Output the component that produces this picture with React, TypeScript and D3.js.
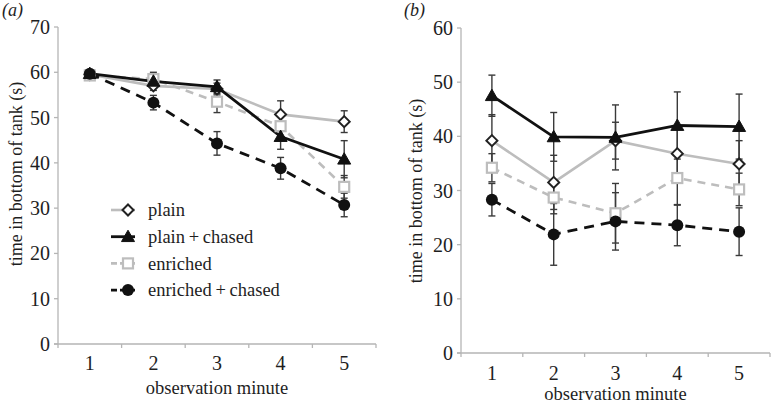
import React from "react";
import * as d3 from "d3";

const minutes = [1, 2, 3, 4, 5];
const yTicksA = [0, 10, 20, 30, 40, 50, 60, 70];
const yTicksB = [0, 10, 20, 30, 40, 50, 60];

// Panel (a)
const aPlain = [59.5, 57.0, 56.3, 50.7, 49.1];
const aPlainErr = [0.8, 1.0, 1.3, 3.0, 2.4];
const aPlainChased = [59.7, 58.0, 56.8, 45.8, 40.8];
const aPlainChasedErr = [0.5, 1.0, 1.5, 2.8, 4.1];
const aEnriched = [59.3, 58.5, 53.5, 48.1, 34.7];
const aEnrichedErr = [0.5, 1.5, 2.4, 2.5, 2.5];
const aEnrichedChased = [59.7, 53.3, 44.3, 38.8, 30.7];
const aEnrichedChasedErr = [0.5, 1.6, 2.6, 2.4, 2.6];

// Panel (b)
const bPlain = [39.2, 31.5, 39.2, 36.8, 34.9];
const bPlainErr = [4.8, 5.0, 3.4, 4.5, 4.3];
const bPlainChased = [47.5, 39.9, 39.8, 42.0, 41.8];
const bPlainChasedErr = [3.8, 4.5, 6.0, 6.2, 6.0];
const bEnriched = [34.2, 28.7, 25.8, 32.3, 30.2];
const bEnrichedErr = [2.6, 3.0, 5.5, 5.0, 3.0];
const bEnrichedChased = [28.3, 21.9, 24.3, 23.6, 22.4];
const bEnrichedChasedErr = [3.0, 5.7, 5.3, 3.8, 4.4];

const seriesNames = ["plain", "plain\u2009+\u2009chased", "enriched", "enriched\u2009+\u2009chased"];

type Style = { color: string; width: number; dash?: string; marker: string };
const styles: Style[] = [
  { color: "#bdbdbd", width: 2.6, marker: "diamond" },
  { color: "#111", width: 2.8, marker: "triangle" },
  { color: "#bdbdbd", width: 2.6, dash: "8,6", marker: "square" },
  { color: "#111", width: 2.8, dash: "10,7", marker: "circle" },
];

const FONT = "'Liberation Serif', 'DejaVu Serif', serif";
const TXT = "#1e1e1e";

function Marker({ kind, x, y }: { kind: string; x: number; y: number }) {
  if (kind === "diamond") {
    const s = 5.5;
    return (
      <path
        d={`M${x},${y - s}L${x + s},${y}L${x},${y + s}L${x - s},${y}Z`}
        fill="#fff"
        stroke="#222"
        strokeWidth={2}
      />
    );
  }
  if (kind === "triangle") {
    const s = 6.5;
    return (
      <path
        d={`M${x},${y - s}L${x + s},${y + s * 0.75}L${x - s},${y + s * 0.75}Z`}
        fill="#111"
        stroke="#111"
        strokeWidth={1}
      />
    );
  }
  if (kind === "square") {
    const s = 5;
    return (
      <rect x={x - s} y={y - s} width={2 * s} height={2 * s} fill="#fff" stroke="#bdbdbd" strokeWidth={2.2} />
    );
  }
  return <circle cx={x} cy={y} r={6} fill="#111" />;
}

type PanelProps = {
  label: string;
  x0: number;
  x1: number;
  yTop: number;
  yBot: number;
  yMax: number;
  yTicks: number[];
  data: number[][];
  errs: number[][];
  titleX: number;
  titleY: number;
  xLabelY: number;
  xTitleY: number;
  labelX: number;
  legend?: boolean;
};

function Panel(p: PanelProps) {
  const x = d3.scaleBand<number>().domain(minutes).range([p.x0, p.x1]).padding(0);
  const cx = (m: number) => (x(m) as number) + x.bandwidth() / 2;
  const y = d3.scaleLinear().domain([0, p.yMax]).range([p.yBot, p.yTop]);
  const line = d3
    .line<number>()
    .x((_, i) => cx(minutes[i]))
    .y((v) => y(v));
  const boundaries = minutes.map((m) => (x(m) as number)).concat([p.x1]);
  const order = [0, 2, 1, 3];
  return (
    <g>
      <text x={p.labelX} y={16} fontFamily={FONT} fontStyle="italic" fontSize={18} fill={TXT}>
        {p.label}
      </text>
      {/* axes */}
      <line x1={p.x0} x2={p.x0} y1={p.yTop} y2={p.yBot} stroke="#b5b5b5" strokeWidth={1.3} />
      <line x1={p.x0 - 4} x2={p.x1} y1={p.yBot} y2={p.yBot} stroke="#b5b5b5" strokeWidth={1.3} />
      {p.yTicks.map((t) => (
        <g key={t}>
          <line x1={p.x0 - 4} x2={p.x0} y1={y(t)} y2={y(t)} stroke="#b5b5b5" strokeWidth={1.3} />
          <text
            x={p.x0 - 8}
            y={y(t)}
            dy="0.35em"
            textAnchor="end"
            fontFamily={FONT}
            fontSize={20}
            fill={TXT}
          >
            {t}
          </text>
        </g>
      ))}
      {boundaries.map((b, i) => (
        <line key={i} x1={b} x2={b} y1={p.yBot} y2={p.yBot + 4} stroke="#b5b5b5" strokeWidth={1.3} />
      ))}
      {minutes.map((m) => (
        <text
          key={m}
          x={cx(m)}
          y={p.xLabelY}
          textAnchor="middle"
          fontFamily={FONT}
          fontSize={20}
          fill={TXT}
        >
          {m}
        </text>
      ))}
      <text
        x={(p.x0 + p.x1) / 2}
        y={p.xTitleY}
        textAnchor="middle"
        fontFamily={FONT}
        fontSize={18.5}
        fill={TXT}
      >
        observation minute
      </text>
      <text
        transform={`translate(${p.titleX},${p.titleY}) rotate(-90)`}
        textAnchor="middle"
        fontFamily={FONT}
        fontSize={18}
        fill={TXT}
      >
        time in bottom of tank (s)
      </text>
      {/* lines */}
      {order.map((si) => (
        <path
          key={"l" + si}
          d={line(p.data[si]) as string}
          fill="none"
          stroke={styles[si].color}
          strokeWidth={styles[si].width}
          strokeDasharray={styles[si].dash}
        />
      ))}
      {/* error bars */}
      {order.map((si) =>
        p.data[si].map((v, i) => {
          const e = p.errs[si][i];
          const xx = cx(minutes[i]);
          return (
            <g key={"e" + si + "-" + i} stroke="#3a3a3a" strokeWidth={1.4}>
              <line x1={xx} x2={xx} y1={y(v - e)} y2={y(v + e)} />
              <line x1={xx - 3.5} x2={xx + 3.5} y1={y(v - e)} y2={y(v - e)} />
              <line x1={xx - 3.5} x2={xx + 3.5} y1={y(v + e)} y2={y(v + e)} />
            </g>
          );
        })
      )}
      {/* markers */}
      {order.map((si) =>
        p.data[si].map((v, i) => (
          <Marker key={"m" + si + "-" + i} kind={styles[si].marker} x={cx(minutes[i])} y={y(v)} />
        ))
      )}
      {p.legend &&
        seriesNames.map((name, si) => {
          const ly = 210 + si * 26.7;
          return (
            <g key={"lg" + si}>
              <line
                x1={111}
                x2={135}
                y1={ly}
                y2={ly}
                stroke={styles[si].color}
                strokeWidth={styles[si].width}
                strokeDasharray={styles[si].dash ? "6,3" : undefined}
              />
              <Marker kind={styles[si].marker} x={128} y={ly} />
              <text x={148} y={ly} dy="0.33em" fontFamily={FONT} fontSize={18.5} fill={TXT}>
                {name}
              </text>
            </g>
          );
        })}
    </g>
  );
}

export default function App() {
  return (
    <svg
      width={773}
      height={405}
      style={{ position: "fixed", left: 0, top: 0, background: "#fff" }}
    >
      <rect width={773} height={405} fill="#fff" />
      <Panel
        label="(a)"
        labelX={2}
        x0={58}
        x1={376}
        yTop={27}
        yBot={344}
        yMax={70}
        yTicks={yTicksA}
        data={[aPlain, aPlainChased, aEnriched, aEnrichedChased]}
        errs={[aPlainErr, aPlainChasedErr, aEnrichedErr, aEnrichedChasedErr]}
        titleX={22}
        titleY={174}
        xLabelY={370}
        xTitleY={394}
        legend
      />
      <Panel
        label="(b)"
        labelX={404}
        x0={461}
        x1={770}
        yTop={28}
        yBot={353}
        yMax={60}
        yTicks={yTicksB}
        data={[bPlain, bPlainChased, bEnriched, bEnrichedChased]}
        errs={[bPlainErr, bPlainChasedErr, bEnrichedErr, bEnrichedChasedErr]}
        titleX={422}
        titleY={191}
        xLabelY={380}
        xTitleY={400}
      />
    </svg>
  );
}
